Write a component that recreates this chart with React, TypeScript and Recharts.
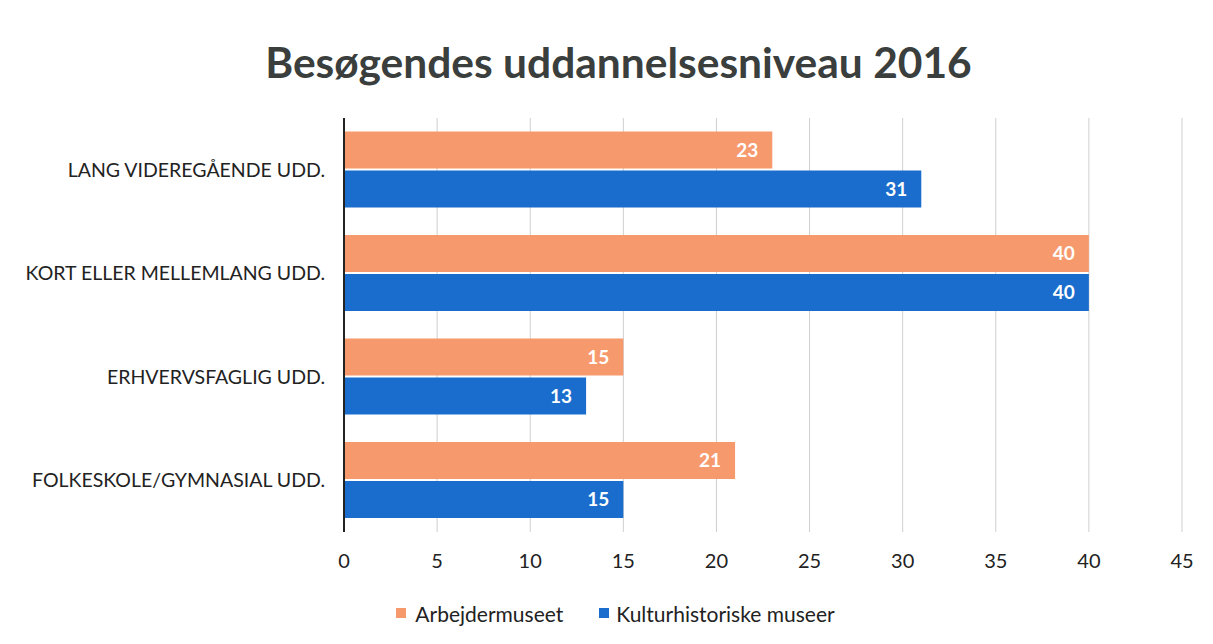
import React from 'react';
import { BarChart, Bar, XAxis, YAxis, CartesianGrid, Legend, LabelList } from 'recharts';

const categories = [
  'LANG VIDEREGÅENDE UDD.',
  'KORT ELLER MELLEMLANG UDD.',
  'ERHVERVSFAGLIG UDD.',
  'FOLKESKOLE/GYMNASIAL UDD.',
];
const arbejdermuseet = [23, 40, 15, 21];
const kulturhistoriske = [31, 40, 13, 15];
const xTicks = [0, 5, 10, 15, 20, 25, 30, 35, 40, 45];
const seriesNames = ['Arbejdermuseet', 'Kulturhistoriske museer'];

const ORANGE = '#F69A6E';
const BLUE = '#1A6DCC';
const FONT = 'Lato, "Open Sans", sans-serif';

const data = categories.map((name, i) => ({
  name,
  a: arbejdermuseet[i],
  k: kulturhistoriske[i],
}));

const LegendContent = () => (
  <div
    style={{
      display: 'flex',
      justifyContent: 'center',
      alignItems: 'center',
      height: 30,
      fontFamily: FONT,
      fontSize: 21,
      color: '#222',
      paddingLeft: 18,
    }}
  >
    <span style={{ display: 'inline-block', width: 10, height: 10, background: ORANGE, marginRight: 9 }} />
    <span style={{ marginRight: 36 }}>{seriesNames[0]}</span>
    <span style={{ display: 'inline-block', width: 10, height: 10, background: BLUE, marginRight: 7 }} />
    <span>{seriesNames[1]}</span>
  </div>
);

export default function App() {
  return (
    <div style={{ position: 'absolute', left: 0, top: 0, width: 1213, height: 644, background: '#fff' }}>
      <div
        style={{
          position: 'absolute',
          left: 0,
          width: 1237,
          top: 34,
          textAlign: 'center',
          fontFamily: FONT,
          fontWeight: 700,
          fontSize: 42.5,
          color: '#3a3e3c',
          lineHeight: '56px',
        }}
      >
        Besøgendes uddannelsesniveau 2016
      </div>
      <BarChart
        width={1213}
        height={644}
        data={data}
        layout="vertical"
        margin={{ top: 118, right: 31, bottom: 16, left: 0 }}
        barCategoryGap="13%"
        barGap={2}
        style={{ position: 'absolute', left: 0, top: 0 }}
      >
        <CartesianGrid horizontal={false} vertical stroke="#cfcfcf" strokeWidth={1} />
        <XAxis
          type="number"
          domain={[0, 45]}
          ticks={xTicks}
          axisLine={false}
          tickLine={false}
          tickSize={0}
          tickMargin={22}
          height={66}
          interval={0}
          tick={{ fontFamily: FONT, fontSize: 20, fill: '#222' }}
        />
        <YAxis
          type="category"
          dataKey="name"
          width={344}
          tickLine={false}
          tickSize={0}
          tickMargin={19}
          axisLine={{ stroke: '#222', strokeWidth: 2 }}
          tick={{ fontFamily: FONT, fontSize: 19.5, fill: '#222' }}
        />
        <Legend
          verticalAlign="bottom"
          content={<LegendContent />}
          wrapperStyle={{ left: 0, width: 1213, height: 30 }}
        />
        <Bar dataKey="a" name={seriesNames[0]} fill={ORANGE} isAnimationActive={false}>
          <LabelList
            dataKey="a"
            position="insideRight"
            offset={14}
            style={{ fill: '#fff', fontFamily: FONT, fontWeight: 700, fontSize: 19 }}
          />
        </Bar>
        <Bar dataKey="k" name={seriesNames[1]} fill={BLUE} isAnimationActive={false}>
          <LabelList
            dataKey="k"
            position="insideRight"
            offset={14}
            style={{ fill: '#fff', fontFamily: FONT, fontWeight: 700, fontSize: 19 }}
          />
        </Bar>
      </BarChart>
    </div>
  );
}
